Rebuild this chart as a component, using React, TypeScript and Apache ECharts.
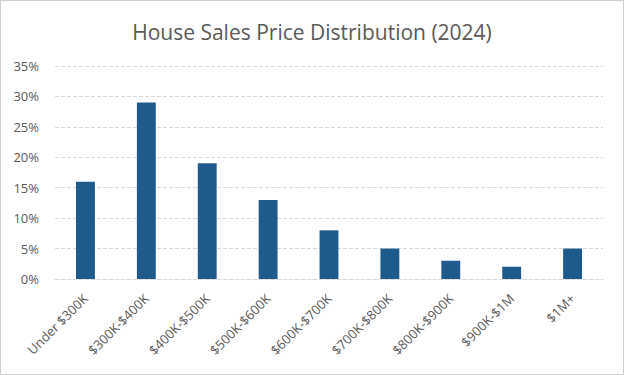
import React, { useEffect, useRef } from "react";
import * as echarts from "echarts";

const categories = [
  "Under $300K",
  "$300K-$400K",
  "$400K-$500K",
  "$500K-$600K",
  "$600K-$700K",
  "$700K-$800K",
  "$800K-$900K",
  "$900K-$1M",
  "$1M+",
];
const shares = [16, 29, 19, 13, 8, 5, 3, 2, 5];
const titleText = "House Sales Price Distribution (2024)";

export default function App() {
  const ref = useRef<HTMLDivElement>(null);
  useEffect(() => {
    document.body.style.margin = "0";
    const chart = echarts.init(ref.current!, null, { renderer: "svg" });
    chart.setOption({
      animation: false,
      backgroundColor: "#ffffff",
      title: {
        text: titleText,
        left: "center",
        top: 15,
        textStyle: {
          fontFamily: "Open Sans",
          fontSize: 21,
          fontWeight: "normal",
          color: "#595959",
        },
      },
      grid: { left: 54, right: 20, top: 65, bottom: 95, containLabel: false },
      xAxis: {
        type: "category",
        data: categories,
        axisLine: { show: true, lineStyle: { color: "#d9d9d9", type: "dashed", width: 1 } },
        axisTick: { show: false },
        axisLabel: {
          rotate: 45,
          interval: 0,
          margin: 17,
          color: "#595959",
          fontFamily: "Open Sans",
          fontSize: 13,
        },
      },
      yAxis: {
        type: "value",
        min: 0,
        max: 35,
        interval: 5,
        axisLine: { show: false },
        axisTick: { show: false },
        axisLabel: {
          formatter: "{value}%",
          color: "#595959",
          fontFamily: "Open Sans",
          fontSize: 13,
          margin: 16,
        },
        splitLine: { lineStyle: { color: "#d9d9d9", type: "dashed", width: 1 } },
      },
      series: [
        {
          type: "bar",
          data: shares,
          barWidth: "31%",
          itemStyle: { color: "#1f5a8c" },
        },
      ],
    });
    return () => chart.dispose();
  }, []);
  return (
    <div
      style={{
        position: "absolute",
        left: 0,
        top: 0,
        width: 624,
        height: 375,
        boxSizing: "border-box",
        border: "1px solid #d0d0d0",
      }}
    >
      <div ref={ref} style={{ width: 622, height: 373 }} />
    </div>
  );
}
